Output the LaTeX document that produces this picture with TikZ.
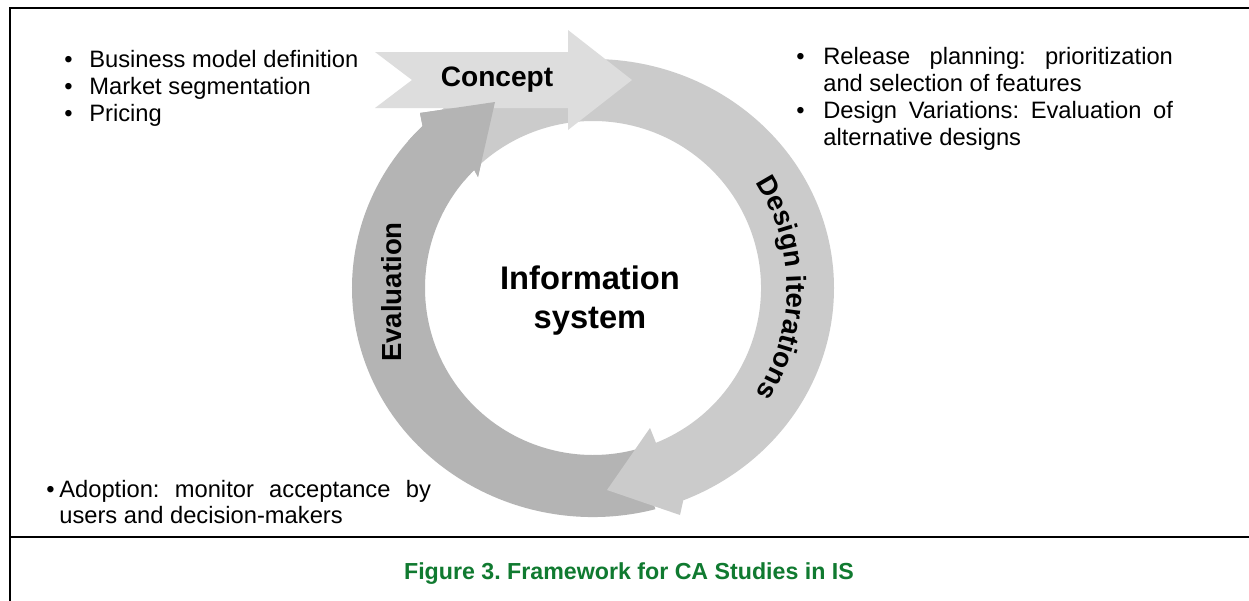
\documentclass[tikz,border=0pt]{standalone}
\usepackage{fontspec}
\setmainfont{Liberation Sans}
\usetikzlibrary{decorations.text}
\definecolor{conceptgray}{RGB}{221,221,221}
\definecolor{designgray}{RGB}{203,203,203}
\definecolor{evalgray}{RGB}{180,180,180}
\definecolor{captiongreen}{RGB}{16,122,48}
\newcommand\phasefont{\fontsize{15.7}{18}\selectfont\bfseries}
\frenchspacing

\begin{document}
\begin{tikzpicture}[x=0.02cm,y=0.02cm,
  frame/.style={line width=1.7pt,black},
  bodytext/.style={inner sep=0pt,anchor=base west,font=\fontsize{13.5}{16}\selectfont},
  phaselabel/.style={inner sep=0pt,font=\phasefont},
  centrelabel/.style={inner sep=0pt,anchor=base,font=\fontsize{18.6}{22}\selectfont\bfseries},
  captiontext/.style={inner sep=0pt,anchor=base,text=captiongreen,font=\fontsize{13.2}{16}\selectfont\bfseries}]
\useasboundingbox (0,0) rectangle (1249,600);
\fill[white] (0,0) rectangle (1249,600);

% outer frame and caption rule
\draw[frame] (1260,592) -- (10,592) -- (10,-10);
\draw[frame] (10,63) -- (1260,63);

% cycle of three arrows around the centre
\begin{scope}[shift={(593,312)}]
  % Evaluation: bottom round the left side up to the top
  \fill[evalgray] (285:241 and 229) arc[start angle=285,end angle=135,x radius=241,y radius=229]
    -- (-173,175) -- (-98,186) -- (-115,111)
    -- (135:168 and 167) arc[start angle=135,end angle=285,x radius=168,y radius=167] -- cycle;
  % Design iterations: top round the right side down to the bottom
  \fill[designgray] (133:241 and 229) arc[start angle=133,end angle=-68,x radius=241,y radius=229]
    -- (87,-227) -- (14,-202) -- (57,-140)
    -- (-68:168 and 167) arc[start angle=-68,end angle=133,x radius=168,y radius=167] -- cycle;
\end{scope}

% Concept arrow across the top
\fill[conceptgray] (375,548) -- (568,548) -- (568,570) -- (632,520) -- (568,470)
  -- (568,492) -- (375,492) -- (412,520) -- cycle;

\begin{scope}[shift={(593,312)}]
  % head of the Evaluation arrow, over the Concept arrow
  \fill[evalgray] (140:241 and 229) arc[start angle=140,end angle=135,x radius=241,y radius=229]
    -- (-173,175) -- (-98,186) -- (-115,111)
    -- (135:168 and 167) arc[start angle=135,end angle=140,x radius=168,y radius=167] -- cycle;
  % label following the right-hand arc
  \path[decorate,decoration={text along path,text align=center,
      text={|\phasefont|Design iterations}}]
    (35:194) arc[start angle=35,end angle=-35,radius=194];
\end{scope}

\node[phaselabel,anchor=base] (concept) at (497,514) {\fontsize{16}{19}\selectfont\bfseries Concept};
\node[phaselabel,rotate=90] (evaluation) at (392,308) {Evaluation};
\node[centrelabel] (info1) at (590,311) {Information};
\node[centrelabel] (info2) at (590,272) {system};

% concept notes
\node[bodytext] (ba1) at (64,533) {•};
\node[bodytext] (ta1) at (89,533) {Business model definition};
\node[bodytext] (ba2) at (64,506) {•};
\node[bodytext] (ta2) at (89,506) {Market segmentation};
\node[bodytext] (ba3) at (64,479) {•};
\node[bodytext] (ta3) at (89,479) {Pricing};

% design notes
\node[bodytext] (bb1) at (796,536) {•};
\node[bodytext] (tb1) at (823,536) {\makebox[199pt][s]{Release planning: prioritization}};
\node[bodytext] (tb2) at (823,509) {and selection of features};
\node[bodytext] (bb2) at (796,482) {•};
\node[bodytext] (tb3) at (823,482) {\makebox[199pt][s]{Design Variations: Evaluation of}};
\node[bodytext] (tb4) at (823,455) {alternative designs};

% evaluation notes
\node[bodytext] (bc1) at (46,103) {•};
\node[bodytext] (tc1) at (59,103) {\makebox[211.5pt][s]{Adoption: monitor acceptance by}};
\node[bodytext] (tc2) at (59,77) {users and decision-makers};

\node[captiontext] (caption) at (629,21) {Figure 3. Framework for CA Studies in IS};
\end{tikzpicture}
\end{document}
